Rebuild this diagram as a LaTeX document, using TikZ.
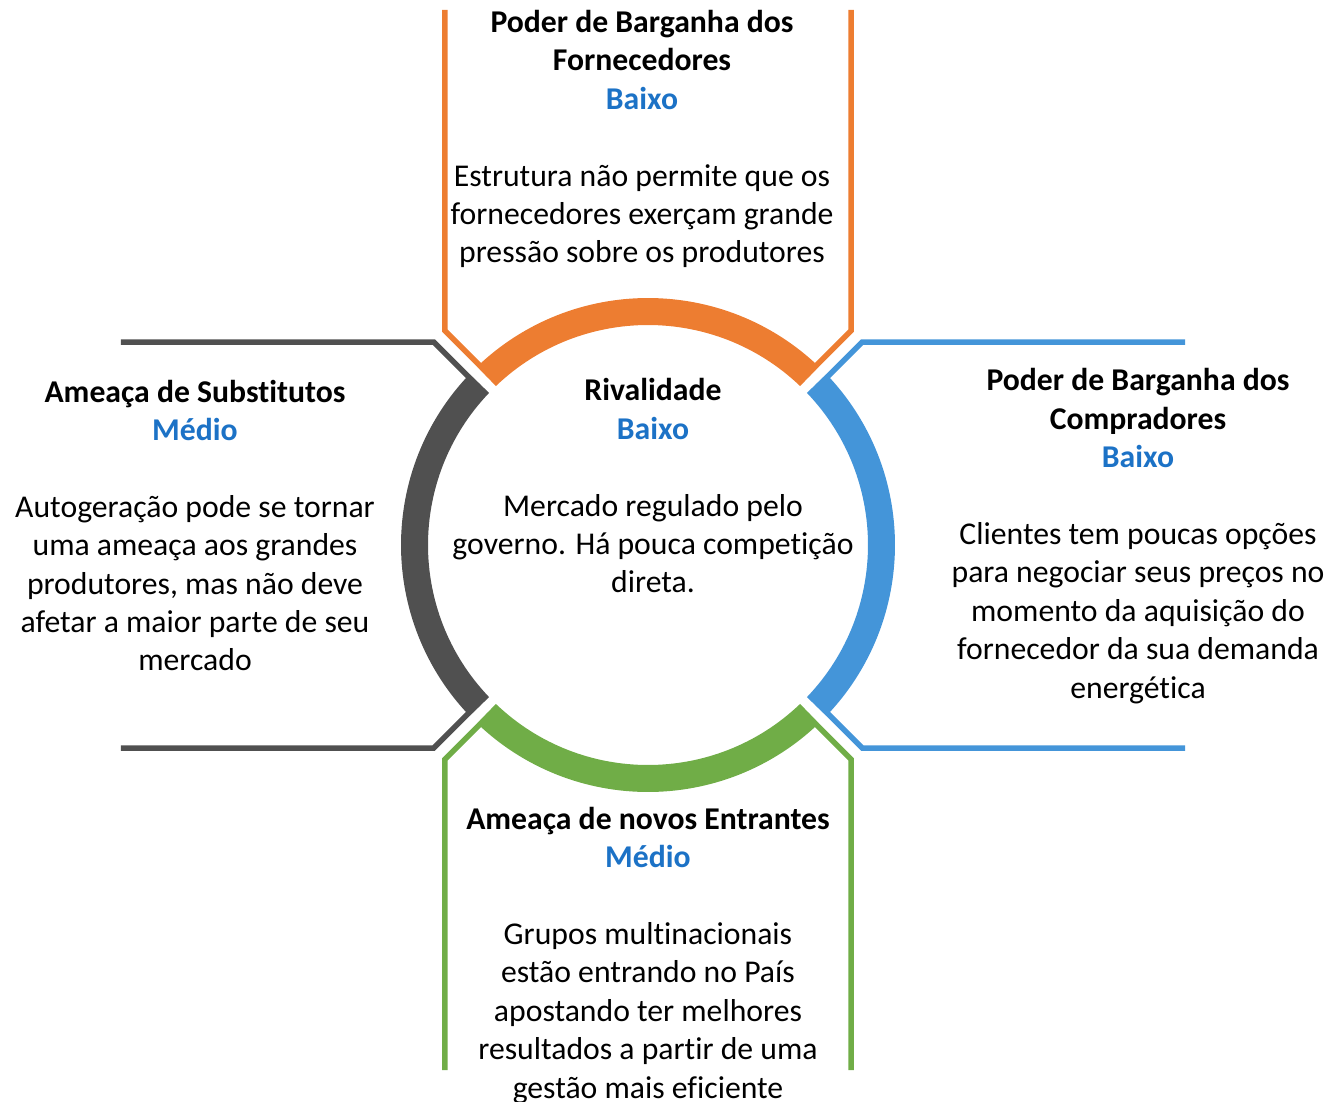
\documentclass[tikz,border=0pt]{standalone}
\usepackage{fontspec}
\setmainfont{Carlito}[RawFeature={-liga;-clig;-calt;-dlig}]
\definecolor{cOrange}{HTML}{ED7D31}
\definecolor{cGray}{HTML}{505050}
\definecolor{cGreen}{HTML}{70AD47}
\definecolor{cBlue}{HTML}{4495D9}
\definecolor{txtBlue}{HTML}{1C72C6}
\newcommand{\pblock}[1]{\begin{tabular}[t]{@{}c@{}}#1\end{tabular}}
\newcommand{\hd}[1]{\textbf{#1}}
\newcommand{\lv}[1]{\textcolor{txtBlue}{\textbf{#1}}}
\begin{document}
\begin{tikzpicture}[x=1pt,y=1pt,
  txt/.style={anchor=base,inner sep=0pt,font=\fontsize{31.7}{38.4}\selectfont},
  band/.style={line width=5.5pt}]
\useasboundingbox (-648,-556) rectangle (682,545);
\coordinate (C) at (0,0);
\foreach \rot/\col/\len in {0/cOrange/535,90/cGray/527,180/cGreen/525,270/cBlue/537}{
  \begin{scope}[rotate=\rot]
    \fill[\col] (46.25:247) arc[start angle=46.25,end angle=133.75,radius=247]
      -- (133.75:220) arc[start angle=133.75,end angle=46.25,radius=220] -- cycle;
    \draw[\col,band] (-203,\len) -- (-203,214.3) -- (-158.3,169.6);
    \draw[\col,band] (203,\len) -- (203,214.3) -- (158.3,169.6);
  \end{scope}
}
\node[txt] (top) at (-6,512.5) {\pblock{\hd{Poder de Barganha dos}\\ \hd{Fornecedores}\\ \lv{Baixo}\\ \\ Estrutura não permite que os\\ fornecedores exerçam grande\\ pressão sobre os produtores}};
\node[txt] (mid) at (5,144.2) {\pblock{\hd{Rivalidade}\\ \lv{Baixo}\\ \\ Mercado regulado pelo\\ governo. Há pouca competição\\ direta.}};
\node[txt] (left) at (-453,143) {\pblock{\hd{Ameaça de Substitutos}\\ \lv{Médio}\\ \\ Autogeração pode se tornar\\ uma ameaça aos grandes\\ produtores, mas não deve\\ afetar a maior parte de seu\\ mercado}};
\node[txt] (right) at (490,154.2) {\pblock{\hd{Poder de Barganha dos}\\ \hd{Compradores}\\ \lv{Baixo}\\ \\ Clientes tem poucas opções\\ para negociar seus preços no\\ momento da aquisição do\\ fornecedor da sua demanda\\ energética}};
\node[txt] (bottom) at (0,-284.2) {\pblock{\hd{Ameaça de novos Entrantes}\\ \lv{Médio}\\ \\ Grupos multinacionais\\ estão entrando no País\\ apostando ter melhores\\ resultados a partir de uma\\ gestão mais eficiente}};
\end{tikzpicture}
\end{document}
